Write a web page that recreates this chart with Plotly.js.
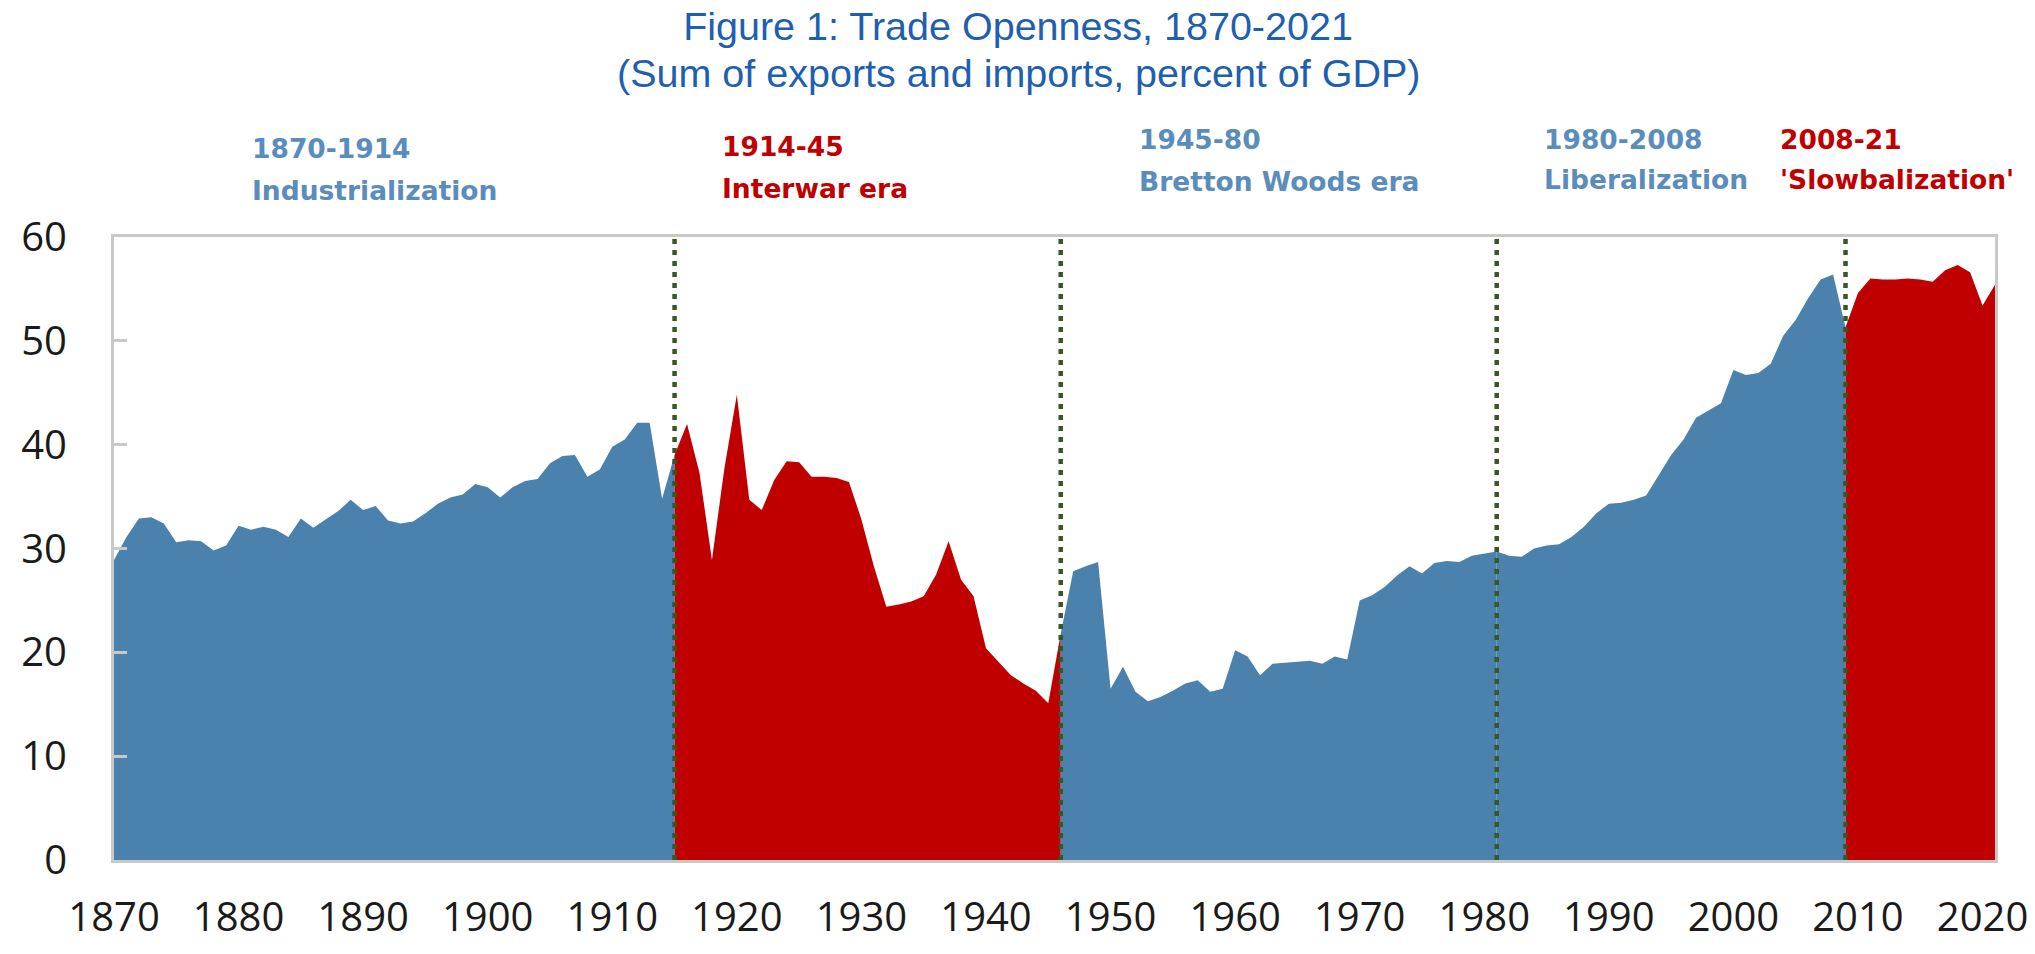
<!DOCTYPE html>
<html>
<head>
<meta charset="utf-8">
<script src="https://cdn.plot.ly/plotly-3.0.1.min.js"></script>
<style>
  html, body { margin: 0; padding: 0; background: #ffffff; }
  #chart { width: 2035px; height: 954px; }
</style>
</head>
<body>
<div id="chart"></div>
<script>
// ---------------- DATA ----------------
const firstYear = 1870;
const lastYear = 2021;

// Trade openness (exports + imports, % of GDP), one value per year 1870..2021
const openness1870s = [28.9, 31.1, 32.9, 33.0, 32.4, 30.6, 30.8, 30.7, 29.8, 30.3];
const openness1880s = [32.2, 31.8, 32.1, 31.8, 31.1, 32.9, 32.0, 32.8, 33.6, 34.7];
const openness1890s = [33.7, 34.1, 32.7, 32.4, 32.6, 33.4, 34.3, 34.9, 35.2, 36.2];
const openness1900s = [35.9, 34.9, 35.9, 36.5, 36.7, 38.2, 38.9, 39.0, 36.9, 37.6];
const openness1910s = [39.8, 40.5, 42.1, 42.1, 34.8, 39.0, 42.0, 37.3, 28.9, 37.7];
const openness1920s = [44.8, 34.7, 33.7, 36.6, 38.4, 38.3, 36.9, 36.9, 36.8, 36.4];
const openness1930s = [32.8, 28.3, 24.4, 24.6, 24.9, 25.4, 27.5, 30.7, 27.0, 25.4];
const openness1940s = [20.4, 19.1, 17.8, 17.0, 16.3, 15.1, 21.8, 27.8, 28.3, 28.7];
const openness1950s = [16.5, 18.6, 16.2, 15.3, 15.7, 16.3, 17.0, 17.3, 16.2, 16.5];
const openness1960s = [20.2, 19.6, 17.8, 18.9, 19.0, 19.1, 19.2, 18.9, 19.6, 19.3];
const openness1970s = [25.0, 25.5, 26.3, 27.4, 28.3, 27.6, 28.6, 28.8, 28.7, 29.3];
const openness1980s = [29.5, 29.7, 29.3, 29.2, 30.0, 30.3, 30.4, 31.1, 32.1, 33.4];
const openness1990s = [34.3, 34.4, 34.7, 35.1, 37.0, 39.0, 40.5, 42.6, 43.3, 44.0];
const openness2000s = [47.2, 46.7, 46.9, 47.8, 50.5, 52.0, 54.1, 55.9, 56.4, 51.3];
const openness2010s = [54.6, 56.0, 55.9, 55.9, 56.0, 55.9, 55.7, 56.8, 57.3, 56.6];
const openness2020s = [53.4, 55.4];

// Era boundaries (years where the dotted separators sit) and era labels
const eraBounds = [1870, 1915, 1946, 1981, 2009, 2021];
const eraIsRed = [false, true, false, false, true];
const eraRanges = ['1870-1914', '1914-45', '1945-80', '1980-2008', '2008-21'];
const eraNames = ['Industrialization', 'Interwar era', 'Bretton Woods era', 'Liberalization', "'Slowbalization'"];
const separatorYears = [1915, 1946, 1981, 2009];

const titleLine1 = 'Figure 1: Trade Openness, 1870-2021';
const titleLine2 = '(Sum of exports and imports, percent of GDP)';

const yTickVals = [0, 10, 20, 30, 40, 50, 60];
const xTickVals = [1870, 1880, 1890, 1900, 1910, 1920, 1930, 1940, 1950, 1960, 1970, 1980, 1990, 2000, 2010, 2020];

// ---------------- BUILD ----------------
const openness = [].concat(openness1870s, openness1880s, openness1890s, openness1900s,
  openness1910s, openness1920s, openness1930s, openness1940s, openness1950s,
  openness1960s, openness1970s, openness1980s, openness1990s, openness2000s,
  openness2010s, openness2020s);
const years = [];
for (let y = firstYear; y <= lastYear; y++) years.push(y);

const BLUE = '#4B81AD';
const RED = '#C00000';
const BLUE_TEXT = '#5A8DBB';
const GREEN = '#385723';
const AXIS_GRAY = '#C9C9C9';
const TITLE_BLUE = '#1F5FAF';

const traces = [];
for (let i = 0; i < eraBounds.length - 1; i++) {
  const xs = [], ys = [];
  for (let k = 0; k < years.length; k++) {
    if (years[k] >= eraBounds[i] && years[k] <= eraBounds[i + 1]) {
      xs.push(years[k]); ys.push(openness[k]);
    }
  }
  traces.push({
    type: 'scatter', mode: 'lines', x: xs, y: ys,
    fill: 'tozeroy',
    fillcolor: eraIsRed[i] ? RED : BLUE,
    line: { width: 0, color: eraIsRed[i] ? RED : BLUE },
    hoverinfo: 'x+y', showlegend: false
  });
}

// pixel helpers for the plot area (114..1995 x 237..860)
const PL = 114, PR = 1995, PT = 237, PB = 860;
const px2x = px => (px - PL) / (PR - PL);
const py2y = py => (PB - py) / (PB - PT);

const labelLeft = [250, 720, 1137, 1542, 1778];
const rangeY = [148, 146, 140, 139, 139];
const nameY = [190, 189, 181, 179, 179];

const annotations = [];
for (let i = 0; i < eraRanges.length; i++) {
  const col = eraIsRed[i] ? RED : BLUE_TEXT;
  annotations.push({
    xref: 'paper', yref: 'paper', x: px2x(labelLeft[i]), y: py2y(rangeY[i]),
    xanchor: 'left', yanchor: 'middle', showarrow: false, text: '<b>' + eraRanges[i] + '</b>',
    font: { family: 'DejaVu Sans', size: 26.5, color: col }
  });
  annotations.push({
    xref: 'paper', yref: 'paper', x: px2x(labelLeft[i]), y: py2y(nameY[i]),
    xanchor: 'left', yanchor: 'middle', showarrow: false, text: '<b>' + eraNames[i] + '</b>',
    font: { family: 'DejaVu Sans', size: 26.5, color: col }
  });
}
// second title line
annotations.push({
  xref: 'paper', yref: 'paper', x: px2x(1018), y: py2y(73),
  xanchor: 'center', yanchor: 'middle', showarrow: false, text: titleLine2,
  font: { family: 'Liberation Sans, Arial, sans-serif', size: 39.5, color: TITLE_BLUE }
});

const shapes = separatorYears.map(yr => ({
  type: 'line', xref: 'x', yref: 'paper', x0: yr, x1: yr, y0: 0, y1: 1,
  layer: 'above', line: { color: GREEN, width: 4.5, dash: '5px,6px' }
}));

const layout = {
  width: 2035, height: 954,
  paper_bgcolor: '#ffffff', plot_bgcolor: '#ffffff',
  margin: { l: PL, r: 2035 - PR, t: PT, b: 954 - PB, pad: 0 },
  title: {
    text: titleLine1,
    x: 1018 / 2035, xanchor: 'center', xref: 'container',
    y: 1 - 26 / 954, yanchor: 'middle', yref: 'container',
    font: { family: 'Liberation Sans, Arial, sans-serif', size: 39.5, color: TITLE_BLUE }
  },
  xaxis: {
    range: [firstYear, lastYear], tickvals: xTickVals, ticks: '',
    showgrid: false, zeroline: false, showline: true, mirror: true,
    linecolor: AXIS_GRAY, linewidth: 3,
    ticklabelstandoff: 20,
    tickfont: { family: 'Open Sans', size: 40, color: '#1a1a1a' }
  },
  yaxis: {
    range: [0, 60], tickvals: yTickVals, ticks: 'inside', ticklen: 13, tickwidth: 3,
    tickcolor: AXIS_GRAY,
    showgrid: false, zeroline: false, showline: true, mirror: true,
    linecolor: AXIS_GRAY, linewidth: 3,
    ticklabelstandoff: 36,
    tickfont: { family: 'Open Sans', size: 40, color: '#1a1a1a' }
  },
  annotations: annotations,
  shapes: shapes,
  showlegend: false
};

Plotly.newPlot('chart', traces, layout, { staticPlot: true, displayModeBar: false });
</script>
</body>
</html>
